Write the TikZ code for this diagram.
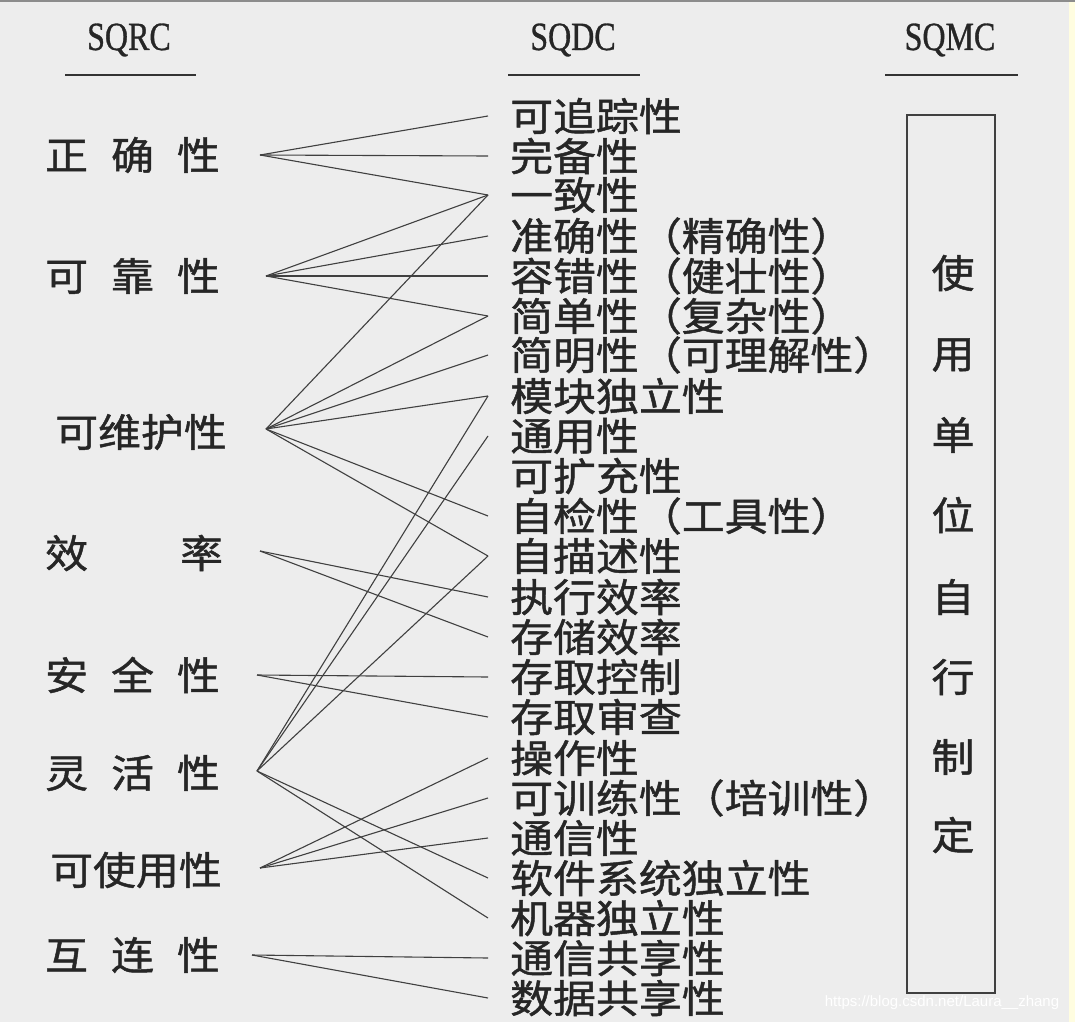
\documentclass[tikz,border=0pt]{standalone}
\usepackage{fontspec}
\newfontfamily\cjk[FakeStretch=1.1,FakeBold=1.2]{Noto Sans CJK SC}
\newfontfamily\hdr[FakeStretch=0.8,FakeBold=0.8]{Liberation Serif}
\newfontfamily\wmk{Liberation Sans}
\newcommand\lsp{\hspace{23pt}}
\begin{document}
\begin{tikzpicture}[x=1pt,y=-1pt,
  lbl/.style={font=\cjk\fontsize{39}{39}\selectfont, inner sep=0pt, anchor=west, text=black!85},
  rc/.style={font=\cjk\fontsize{39}{39}\selectfont, inner sep=0pt, text=black!85},
  hd/.style={font=\hdr\fontsize{40}{40}\selectfont, inner sep=0pt, text=black!85},
  link/.style={draw=black!75, line width=1.1pt},
  uline/.style={draw=black!80, line width=2.6pt}
]
\useasboundingbox (0,0) rectangle (1075,1022);
\fill[black!7] (0,0) rectangle (1075,1022);
\fill[yellow!12] (1069,0) rectangle (1075,1022);
\draw[black!45, line width=2pt] (0,1) -- (1075,1);

% headers
\node[hd] (h1) at (129,40) {SQRC};
\node[hd] (h2) at (573,40) {SQDC};
\node[hd] (h3) at (950,40) {SQMC};
\coordinate (u1a) at (65,75); \coordinate (u1b) at (196,75);
\coordinate (u2a) at (508,75); \coordinate (u2b) at (640,75);
\coordinate (u3a) at (885,75); \coordinate (u3b) at (1018,75);
\draw[uline] (u1a) -- (u1b);
\draw[uline] (u2a) -- (u2b);
\draw[uline] (u3a) -- (u3b);

% left column
\node[lbl] (l1) at (45,155) {正\lsp 确\lsp 性};
\node[lbl] (l2) at (45,276) {可\lsp 靠\lsp 性};
\node[lbl] (l3) at (55,432) {可维护性};
\node[lbl] (l4) at (45,553) {效\hspace{92pt}率};
\node[lbl] (l5) at (45,675) {安\lsp 全\lsp 性};
\node[lbl] (l6) at (45,773) {灵\lsp 活\lsp 性};
\node[lbl] (l7) at (50,870) {可使用性};
\node[lbl] (l8) at (45,955) {互\lsp 连\lsp 性};

\coordinate (o1) at (260,155);
\coordinate (o2) at (266,276);
\coordinate (o3) at (266,429);
\coordinate (o4) at (260,551);
\coordinate (o5) at (257,675);
\coordinate (o6) at (257,771);
\coordinate (o7) at (260,868);
\coordinate (o8) at (252,955);

% middle column
\node[lbl] (m1) at (510,116) {可追踪性};
\node[lbl] (m2) at (510,156) {完备性};
\node[lbl] (m3) at (510,195) {一致性};
\node[lbl] (m4) at (510,236) {准确性（精确性）};
\node[lbl] (m5) at (510,276) {容错性（健壮性）};
\node[lbl] (m6) at (510,316) {简单性（复杂性）};
\node[lbl] (m7) at (510,355) {简明性（可理解性）};
\node[lbl] (m8) at (510,396) {模块独立性};
\node[lbl] (m9) at (510,436) {通用性};
\node[lbl] (m10) at (510,476) {可扩充性};
\node[lbl] (m11) at (510,516) {自检性（工具性）};
\node[lbl] (m12) at (510,556) {自描述性};
\node[lbl] (m13) at (510,597) {执行效率};
\node[lbl] (m14) at (510,637) {存储效率};
\node[lbl] (m15) at (510,677) {存取控制};
\node[lbl] (m16) at (510,717) {存取审查};
\node[lbl] (m17) at (510,758) {操作性};
\node[lbl] (m18) at (510,798) {可训练性（培训性）};
\node[lbl] (m19) at (510,838) {通信性};
\node[lbl] (m20) at (510,878) {软件系统独立性};
\node[lbl] (m21) at (510,918) {机器独立性};
\node[lbl] (m22) at (510,958) {通信共享性};
\node[lbl] (m23) at (510,998) {数据共享性};

% right column
\node[draw=black!75, line width=2pt, minimum width=88pt, minimum height=878pt, inner sep=0pt] (box) at (951,554) {};
\node[rc] (r1) at (953,273) {使};
\node[rc] (r2) at (953,355) {用};
\node[rc] (r3) at (953,435) {单};
\node[rc] (r4) at (953,515) {位};
\node[rc] (r5) at (953,597) {自};
\node[rc] (r6) at (953,677) {行};
\node[rc] (r7) at (953,757) {制};
\node[rc] (r8) at (953,835) {定};

% connectors
\foreach \s/\t in {o1/m1,o1/m2,o1/m3,
  o2/m3,o2/m4,o2/m5,o2/m6,
  o3/m3,o3/m6,o3/m7,o3/m8,o3/m11,o3/m12,
  o4/m13,o4/m14,
  o5/m15,o5/m16,
  o6/m8,o6/m9,o6/m12,o6/m20,o6/m21,
  o7/m17,o7/m18,o7/m19,
  o8/m22,o8/m23}
  \draw[link] (\s) -- ([xshift=-22pt]\t.west);

% watermark
\node[font=\wmk\fontsize{15}{15}\selectfont, text=white, inner sep=0pt] (wm) at (942,1003) {https://blog.csdn.net/Laura\_\_zhang};
\end{tikzpicture}
\end{document}
